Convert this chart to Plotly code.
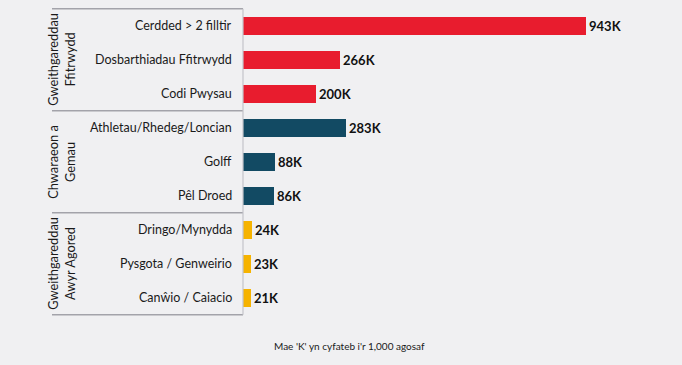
import plotly.graph_objects as go

categories = ["Cerdded > 2 filltir", "Dosbarthiadau Ffitrwydd", "Codi Pwysau",
              "Athletau/Rhedeg/Loncian", "Golff", "Pêl Droed",
              "Dringo/Mynydda", "Pysgota / Genweirio", "Canŵio / Caiacio"]
values_k = [943, 266, 200, 283, 88, 86, 24, 23, 21]
group_of = [0, 0, 0, 1, 1, 1, 2, 2, 2]
group_names = ["Gweithgareddau<br>Ffitrwydd", "Chwaraeon a<br>Gemau", "Gweithgareddau<br>Awyr Agored"]
group_colors = ["#e81c2e", "#124a63", "#f6b300"]
footnote = "Mae 'K' yn cyfateb i'r 1,000 agosaf"

W, H = 682, 365
BG = "#f0f0f2"
FONT = "Lato"

fig = go.Figure()
pos = list(range(len(categories)))
for g in range(len(group_names)):
    idx = [i for i in pos if group_of[i] == g]
    fig.add_trace(go.Bar(
        x=[values_k[i] for i in idx], y=idx, orientation="h",
        marker=dict(color=group_colors[g], line=dict(width=0)),
        width=0.52,
        text=[f"{values_k[i]}K" for i in idx], textposition="outside",
        textfont=dict(family=FONT, size=13, color="#111111", weight="bold"),
        cliponaxis=False, showlegend=False, hoverinfo="skip",
    ))

x0 = 243 / W
# category labels
for i, c in enumerate(categories):
    fig.add_annotation(x=234 / W, xref="paper", y=i, yref="y", text=c,
                       showarrow=False, xanchor="right", yanchor="middle",
                       font=dict(family=FONT, size=12.5, color="#1a1a1a"))

# group labels and separators
for g, name in enumerate(group_names):
    idx = [i for i in pos if group_of[i] == g]
    mid = sum(idx) / len(idx)
    fig.add_annotation(x=62 / W, xref="paper", y=mid, yref="y", text=name,
                       textangle=-90, showarrow=False, xanchor="center", yanchor="middle",
                       font=dict(family=FONT, size=12.8, color="#1a1a1a"))
    for yy in ([min(idx) - 0.5] if g == 0 else []) + [max(idx) + 0.5]:
        fig.add_shape(type="line", xref="paper", yref="y", x0=52 / W, x1=x0,
                      y0=yy, y1=yy, line=dict(color="#a3a3aa", width=1.5))

fig.add_shape(type="line", xref="paper", yref="y", x0=x0, x1=x0,
              y0=-0.5, y1=len(categories) - 0.5, line=dict(color="#c4c4ca", width=1.2))

fig.add_annotation(x=349 / W, xref="paper", y=1 - 346 / H, yref="paper", text=footnote,
                   showarrow=False, xanchor="center", yanchor="middle",
                   font=dict(family=FONT, size=10, color="#1a1a1a"))

# y mapping: px = 25.8 + 34*v
ytop = (0 - 25.8) / 34
ybot = (H - 25.8) / 34
fig.update_layout(
    width=W, height=H, margin=dict(l=0, r=0, t=0, b=0),
    paper_bgcolor=BG, plot_bgcolor=BG,
    xaxis=dict(domain=[x0, 1], range=[0, (W - 243) / 0.3637], visible=False, fixedrange=True),
    yaxis=dict(domain=[0, 1], range=[ybot, ytop], visible=False, fixedrange=True),
    barmode="overlay", bargap=0,
)
fig.write_html("out.html", config={"displayModeBar": False},
               post_script="document.body.style.margin='0';document.body.style.background='%s';" % BG)
